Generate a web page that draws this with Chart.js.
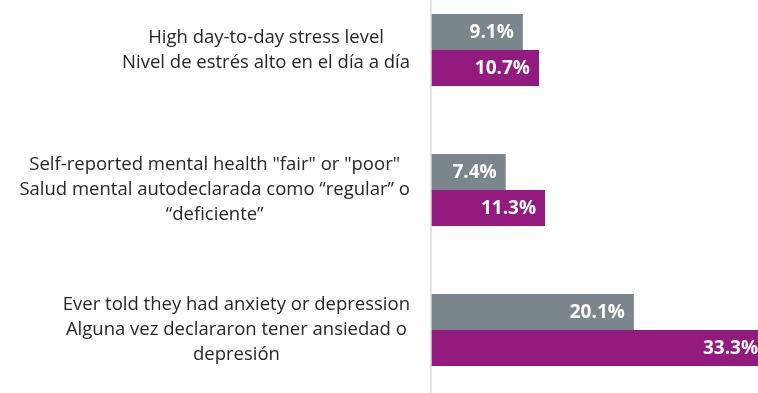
<!DOCTYPE html>
<html>
<head>
<meta charset="utf-8">
<script src="https://cdn.jsdelivr.net/npm/chart.js@4/dist/chart.umd.min.js"></script>
<style>
  html, body { margin: 0; padding: 0; background: #fff; overflow: hidden; }
  #wrap { position: absolute; left: 0; top: -20px; width: 758px; height: 420px; }
</style>
</head>
<body>
<div id="wrap"><canvas id="c"></canvas></div>
<script>
// 分类标签（多行）
const categories = [
  ['High day-to-day stress level', 'Nivel de estrés alto en el día a día'],
  ['Self-reported mental health "fair" or "poor"', 'Salud mental autodeclarada como “regular” o', '“deficiente”'],
  ['Ever told they had anxiety or depression', 'Alguna vez declararon tener ansiedad o', 'depresión']
];
const seriesGray = [9.1, 7.4, 20.1];
const seriesPurple = [10.7, 11.3, 33.3];

const GRAY = '#7b858c';
const PURPLE = '#931b80';

// 自绘左侧分类标签：每块文字居中，整块靠右贴近坐标轴
const categoryLabels = {
  id: 'categoryLabels',
  afterDraw(chart) {
    const { ctx, scales: { x, y } } = chart;
    const axisX = x.getPixelForValue(0);
    ctx.save();
    ctx.font = '18.5px "Open Sans", Lato, sans-serif';
    ctx.fillStyle = '#262626';
    ctx.textAlign = 'center';
    ctx.textBaseline = 'middle';
    const lineH = 24.8;
    categories.forEach((lines, i) => {
      const cy = y.getPixelForValue(i);
      const maxW = Math.max(...lines.map(l => ctx.measureText(l).width));
      const cx = axisX - 21 - maxW / 2;
      const y0 = cy - (lines.length - 1) * lineH / 2;
      lines.forEach((l, k) => ctx.fillText(l, cx, y0 + k * lineH));
    });
    // 纵轴线
    ctx.strokeStyle = '#d9d9d9';
    ctx.lineWidth = 1.5;
    ctx.beginPath();
    ctx.moveTo(axisX, 0);
    ctx.lineTo(axisX, chart.height);
    ctx.stroke();
    ctx.restore();
  }
};

// 柱内数值标签
const valueLabels = {
  id: 'valueLabels',
  afterDatasetsDraw(chart) {
    const { ctx } = chart;
    ctx.save();
    ctx.font = 'bold 19px "Open Sans", Lato, sans-serif';
    ctx.fillStyle = '#ffffff';
    ctx.textAlign = 'right';
    ctx.textBaseline = 'middle';
    chart.data.datasets.forEach((ds, di) => {
      chart.getDatasetMeta(di).data.forEach((bar, i) => {
        ctx.fillText(ds.data[i].toFixed(1) + '%', bar.x - 9, bar.y + 1);
      });
    });
    ctx.restore();
  }
};

new Chart(document.getElementById('c'), {
  type: 'bar',
  data: {
    labels: categories,
    datasets: [
      { label: 'Gray', data: seriesGray, backgroundColor: GRAY, borderWidth: 0 },
      { label: 'Purple', data: seriesPurple, backgroundColor: PURPLE, borderWidth: 0 }
    ]
  },
  plugins: [categoryLabels, valueLabels],
  options: {
    indexAxis: 'y',
    responsive: true,
    maintainAspectRatio: false,
    animation: false,
    layout: { padding: { left: 431, right: 0, top: 0, bottom: 0 } },
    datasets: { bar: { categoryPercentage: 0.515, barPercentage: 1 } },
    scales: {
      x: { display: false, min: 0, max: 32.4 },
      y: { display: false }
    },
    plugins: {
      legend: { display: false },
      tooltip: { enabled: false }
    }
  }
});
</script>
</body>
</html>
